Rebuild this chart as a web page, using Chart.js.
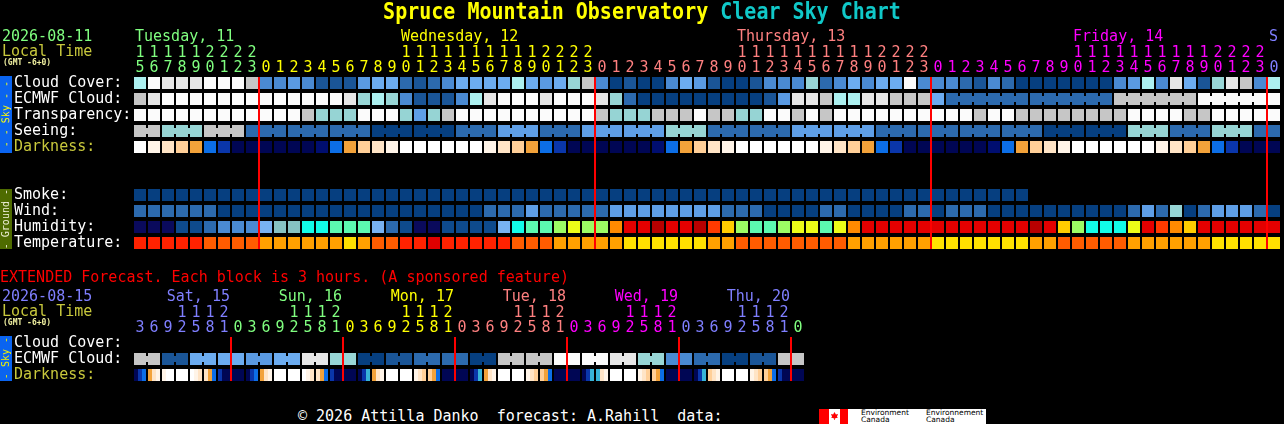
<!DOCTYPE html>
<html>
<head>
<meta charset="utf-8">
<title>Spruce Mountain Observatory Clear Sky Chart</title>
<script src="https://cdn.jsdelivr.net/npm/chart.js@4.4.1/dist/chart.umd.min.js"></script>
<style>
  html, body { margin:0; padding:0; background:#000; }
  body { position:relative; width:1284px; height:424px; overflow:hidden; font-family:"DejaVu Sans Mono", monospace; }
  canvas { position:absolute; left:0; }
  .t { position:absolute; white-space:pre; }
  .side { position:absolute; left:0; width:12px; display:flex; align-items:center; justify-content:center; overflow:hidden; }
  .side span { writing-mode:vertical-rl; transform:rotate(180deg); font-size:10px; line-height:12px; white-space:pre; font-family:"DejaVu Sans Mono", monospace; }
  #dayClip { position:absolute; left:0; top:0; width:1279px; height:60px; overflow:hidden; }
</style>
</head>
<body>
<canvas id="mainChart" width="1284" height="260" style="top:0px"></canvas>
<canvas id="extChart" width="1284" height="140" style="top:260px"></canvas>
<div id="labels"><div id="dayClip"></div></div>
<script>
// ---------------- DATA ----------------
// Main 1-hour forecast: local hours of each column
const hours = [15,16,17,18,19,20,21,22,23,
  0,1,2,3,4,5,6,7,8,9,10,11,12,13,14,15,16,17,18,19,20,21,22,23,
  0,1,2,3,4,5,6,7,8,9,10,11,12,13,14,15,16,17,18,19,20,21,22,23,
  0,1,2,3,4,5,6,7,8,9,10,11,12,13,14,15,16,17,18,19,20,21,22,23,
  0];
const dayNames = ['Tuesday, 11', 'Wednesday, 12', 'Thursday, 13', 'Friday, 14', 'Saturday, 15'];

// Cloud cover, % (0 = clear, 100 = overcast)
const cloudCover = [70,100,90,90,90,100,100,100,80,
  30,30,40,30,10,10,10,40,50,50,20,10,20,30,50,50,50,50,70,50,40,50,60,80,
  30,0,10,0,0,30,50,40,10,0,0,10,30,30,30,60,20,30,50,30,50,50,100,30,
  30,30,20,10,30,20,0,0,0,0,0,0,0,30,40,70,30,90,50,10,60,90,80,30,
  70];
// ECMWF cloud, %: hourly samples, then 6-hourly samples
const ecmwfHourly = [80,90,100,100,100,100,100,100,100,
  100,100,100,100,100,100,90,60,70,60,30,10,10,10,30,70,90,100,100,100,90,100,100,100,
  90,60,20,0,0,0,0,0,0,0,0,0,10,40,90,90,80,70,70,90,90,80,80,80,
  50];
const ecmwfSixHourly = [20, 20, 80, 100];
// Transparency: 0 too cloudy, 1 poor ... 5 transparent
const transparency = [0,0,0,0,0,0,0,0,0,
  0,0,0,1,2,2,2,0,0,0,2,3,2,1,0,0,0,0,0,0,0,0,0,0,
  1,2,2,2,1,1,1,0,1,1,2,2,0,0,1,0,1,0,0,0,0,0,0,0,
  0,0,0,1,0,0,1,1,1,1,1,1,1,1,0,0,0,0,1,1,0,0,0,0,
  0];
// Seeing (3-hourly samples): 1 bad ... 5 excellent
const seeing3h = [1,2,1,4,4,4,5,5,4,3,4,3,3,2,4,4,3,3,4,4,4,4,5,5,2,4,2,4];
// Darkness level: 0 daylight ... 4 twilight ... 8 full dark
const darkness = [0,1,2,3,4,5,6,8,8,
  8,8,8,8,7,5,4,3,2,1,0,0,0,0,0,0,1,2,3,4,5,6,8,8,
  8,8,8,8,7,5,4,3,2,1,0,0,0,0,0,0,1,2,3,4,5,6,8,8,
  8,8,8,8,7,5,4,3,2,1,0,0,0,0,0,0,1,2,3,4,5,6,8,8,
  8];
// Smoke, ug/m3 (forecast ends early)
const smoke = [0,0,0,0,0,0,0,0,0,0,0,0,0,0,0,0,0,0,0,0,0,0,0,0,0,0,0,0,0,0,0,0,
  0,0,0,0,0,0,0,0,0,0,0,0,0,0,0,0,0,0,0,0,0,0,0,0,0,0,0,0,0,0,0,0];
// Wind class: 0 (0-5 mph), 1 (6-11), 2 (12-16), 3 (17-28)
const wind = [1,1,1,1,1,1,0,0,0,
  0,0,0,0,0,0,0,0,0,0,0,0,0,0,0,0,1,1,1,2,1,1,1,1,
  1,2,2,2,2,2,2,2,2,1,1,1,0,0,0,0,1,1,0,0,0,0,1,1,
  0,1,1,1,0,0,0,0,0,0,0,0,0,0,1,2,1,3,0,1,2,2,2,1,
  0];
// Humidity class: 0 (<25%) ... 14 (90-95%)
const humidity = [0,0,0,1,1,2,3,3,3,
  4,5,5,6,6,7,7,7,4,2,1,0,0,1,1,1,1,4,6,7,7,8,9,8,
  8,11,13,13,14,13,13,14,12,10,8,7,7,8,9,9,7,9,11,13,13,13,13,13,
  13,13,13,13,13,13,13,14,13,10,8,6,6,6,9,13,12,11,10,13,13,13,13,13,
  13];
// Temperature, deg F
const temperature = [81,81,81,81,81,75,75,75,75,
  69,69,69,69,69,69,63,69,75,75,81,81,87,81,81,81,81,81,75,75,75,69,69,69,
  69,69,63,63,63,63,63,63,69,69,75,75,75,75,75,75,75,75,69,69,69,69,69,69,
  63,63,63,63,63,63,63,69,69,75,75,75,75,75,69,69,69,69,69,69,63,63,63,63,
  63];

// Extended 3-hour forecast
const extHours = [3,6,9,12,15,18,21,
  0,3,6,9,12,15,18,21, 0,3,6,9,12,15,18,21, 0,3,6,9,12,15,18,21,
  0,3,6,9,12,15,18,21, 0,3,6,9,12,15,18,21, 0];
const extDayNames = ['Sat, 15', 'Sun, 16', 'Mon, 17', 'Tue, 18', 'Wed, 19', 'Thu, 20', 'Fri, 21'];
const extEcmwf6h = [80,10,50,50,40,50,90,60,0,10,20,20,0,80,80,100,100,90,60,30,20,0,10,80];
// darkness of each hour inside every 3-hour block
const extDarkness = [
  [8,6,5],[4,2,1],[1,0,0],[0,0,0],[0,1,2],[2,4,5],[6,8,8],
  [8,8,8],[8,6,5],[4,2,1],[0,0,0],[0,0,0],[0,1,2],[2,4,5],[6,8,8],
  [8,8,8],[8,6,9],[4,2,1],[0,0,0],[0,0,0],[1,2,3],[3,4,5],[8,8,8],
  [8,8,8],[8,6,9],[4,2,1],[0,0,0],[0,0,0],[1,2,3],[3,4,5],[8,8,8],
  [8,8,8],[8,6,9],[9,2,1],[0,0,0],[0,0,0],[1,2,3],[3,4,5],[8,8,8],
  [8,8,8],[8,6,9],[3,2,1],[0,0,0],[0,0,0],[1,2,3],[3,4,5],[6,8,8],
  [8,8,8]];

// ---------------- STYLE ----------------
const FONT = '"DejaVu Sans Mono", monospace';
const mainDayColors = ['#80ff80', '#ffff00', '#ff8080', '#ff00ff', '#7f7fff'];
const extDayColors = ['#7f7fff', '#80ff80', '#ffff00', '#ff8080', '#ff00ff', '#7f7fff', '#80ff80'];
const OLIVE = '#c8c83c';
const cloudPalette = {0:'#063f80',10:'#1a5597',20:'#2c6aae',30:'#4a8ad2',40:'#5a9ae2',50:'#6cacf0',
  60:'#98d6d6',70:'#acf0f0',80:'#c6c6c6',90:'#e6e6e6',100:'#fbfbfb'};
const skyPalette = ['#fbfbfb','#c6c6c6','#96d4d4','#5e9ee6','#2c6aae','#063f80'];
const darkPalette = ['#ffffff','#fff4e8','#ffe4c6','#ffcf98','#f2a23a','#0c6ee6','#0a36aa','#000e70','#000654','#38b4d8'];
const windPalette = ['#063f80','#2c6aae','#5e9ee6','#96d4d4'];
const humPalette = ['#0a0a5c','#0e4a8c','#2c6aae','#4a8ad2','#78b2f2','#86c2c2','#12fce8','#5cfab0',
  '#9cfc64','#ecfc18','#ffcc00','#ff8a00','#ff3a00','#e40000','#b80000'];
function tempColor(f) {
  if (f < 66) return '#ffe000';
  if (f < 72) return '#ffa000';
  if (f < 78) return '#ff5c00';
  if (f < 85) return '#ff2200';
  return '#e00000';
}

// ---------------- HELPERS ----------------
function expand(samples, spans, n) {
  const vals = [], grp = [];
  samples.forEach((v, g) => { for (let i = 0; i < spans[g]; i++) { vals.push(v); grp.push(g); } });
  return { vals: vals.slice(0, n), grp: grp.slice(0, n) };
}
function rowBar(k, vals, colorOf) {
  return {
    type: 'bar', grouped: false, order: 1,
    data: vals.map(v => v == null ? null : [k + 0.125, k + 0.875]),
    backgroundColor: vals.map(v => v == null ? 'rgba(0,0,0,0)' : colorOf(v)),
    categoryPercentage: 1, barPercentage: 12 / 14, borderWidth: 0, inflateAmount: 0
  };
}
function rowLinks(k, vals, grp, colorOf) {
  return {
    type: 'line', order: 2, data: vals.map(() => k + 0.5),
    borderColor: 'rgba(0,0,0,0)', borderWidth: 6, borderCapStyle: 'butt',
    pointRadius: 0, pointHoverRadius: 0, fill: false, tension: 0,
    segment: { borderColor: c => grp[c.p0DataIndex] === grp[c.p1DataIndex] ? colorOf(vals[c.p0DataIndex]) : 'rgba(0,0,0,0)' }
  };
}
function dayIndexOf(hrs) {
  let d = 0; return hrs.map((h, i) => { if (i > 0 && h === 0) d++; return d; });
}
function twoLine(h) {
  return h >= 10 ? [String(Math.floor(h / 10)), String(h % 10)] : ['', String(h)];
}
function makeChart(id, cfg) {
  const rows = cfg.rows;
  return new Chart(document.getElementById(id), {
    type: 'bar',
    data: { labels: cfg.labels, datasets: cfg.datasets },
    options: {
      responsive: false, maintainAspectRatio: false, animation: false, devicePixelRatio: 1, events: [],
      layout: { padding: cfg.padding },
      plugins: { legend: { display: false }, tooltip: { enabled: false } },
      scales: {
        x: {
          type: 'category', position: 'top', offset: true,
          afterFit: s => { s.height = 77; },
          grid: { offset: true, drawTicks: false, lineWidth: 2, z: 1,
            color: c => (c.index < cfg.labels.length && cfg.labels[c.index] === 0) ? '#ff0000' : 'rgba(0,0,0,0)' },
          border: { display: false },
          ticks: { autoSkip: false, maxRotation: 0, minRotation: 0, padding: 1.5,
            callback: (v, i) => twoLine(cfg.labels[i]),
            color: c => cfg.dayColors[cfg.dayIdx[c.index]],
            font: { family: FONT, size: 15, lineHeight: '15px' } }
        },
        y: {
          type: 'linear', position: 'left', reverse: true, min: 0.125, max: rows.length - 0.125,
          afterBuildTicks: s => { s.ticks = rows.map((_, i) => ({ value: i + 0.5 })); },
          afterFit: s => { s.width = 119; },
          grid: { display: false }, border: { display: false },
          ticks: { autoSkip: false, crossAlign: 'far', padding: 0,
            callback: (v, i) => rows[i],
            color: c => cfg.rowColors[c.index],
            font: { family: FONT, size: 15, lineHeight: '15px' } }
        }
      }
    }
  });
}

// ---------------- MAIN CHART ----------------
const mainDayIdx = dayIndexOf(hours);
const N = hours.length;
const ecmwf = expand(ecmwfHourly.concat(ecmwfSixHourly), ecmwfHourly.map(() => 1).concat(ecmwfSixHourly.map(() => 6)), N);
const seeing = expand(seeing3h, seeing3h.map((_, g) => g === 0 ? 2 : 3), N);
const smokeFull = hours.map((_, i) => i < smoke.length ? smoke[i] : null);
const mainRows = ['Cloud Cover:', 'ECMWF Cloud:', 'Transparency:', 'Seeing:', 'Darkness:', '', '',
  'Smoke:', 'Wind:', 'Humidity:', 'Temperature:'];
const mainRowColors = ['#ffffff', '#ffffff', '#ffffff', '#ffffff', OLIVE, '#ffffff', '#ffffff',
  '#ffffff', '#ffffff', '#ffffff', '#ffffff'];
const cloudC = v => cloudPalette[v];
const skyC = v => skyPalette[v];
const mainChart = makeChart('mainChart', {
  labels: hours, dayIdx: mainDayIdx, dayColors: mainDayColors,
  rows: mainRows, rowColors: mainRowColors,
  padding: { left: 14, right: 3, top: 0, bottom: 11 },
  datasets: [
    rowBar(0, cloudCover, cloudC),
    rowLinks(1, ecmwf.vals, ecmwf.grp, cloudC),
    rowBar(1, ecmwf.vals, cloudC),
    rowBar(2, transparency, skyC),
    rowLinks(3, seeing.vals, seeing.grp, skyC),
    rowBar(3, seeing.vals, skyC),
    rowBar(4, darkness, v => darkPalette[v]),
    rowBar(7, smokeFull, () => '#063f80'),
    rowBar(8, wind, v => windPalette[v]),
    rowBar(9, humidity, v => humPalette[v]),
    rowBar(10, temperature, tempColor)
  ]
});

// ---------------- EXTENDED CHART ----------------
const extDayIdx = dayIndexOf(extHours);
const M = extHours.length;
const extEc = expand(extEcmwf6h, extEcmwf6h.map(() => 2), M);
function darkSub(s) {
  return {
    type: 'bar', grouped: true, order: 1,
    data: extDarkness.map(() => [2.125, 2.875]),
    backgroundColor: extDarkness.map(t => darkPalette[t[s]]),
    categoryPercentage: 12 / 14, barPercentage: 1, borderWidth: 0, inflateAmount: 0
  };
}
const extChart = makeChart('extChart', {
  labels: extHours, dayIdx: extDayIdx, dayColors: extDayColors,
  rows: ['Cloud Cover:', 'ECMWF Cloud:', 'Darkness:'], rowColors: ['#ffffff', '#ffffff', OLIVE],
  padding: { left: 14, right: 1284 - 133 - 14 * M, top: 0, bottom: 19 },
  datasets: [
    rowLinks(1, extEc.vals, extEc.grp, cloudC),
    rowBar(1, extEc.vals, cloudC),
    darkSub(0), darkSub(1), darkSub(2)
  ]
});

// ---------------- TEXT ----------------
const layer = document.getElementById('labels');
function addText(str, x, capTop, color, opt) {
  opt = opt || {};
  const size = opt.size || 15;
  const d = document.createElement('div');
  d.className = 't';
  d.textContent = str;
  d.style.fontSize = size + 'px';
  d.style.lineHeight = size + 'px';
  d.style.left = x + 'px';
  d.style.top = (capTop - 0.12 * size) + 'px';
  d.style.color = color;
  if (opt.bold) d.style.fontWeight = 'bold';
  if (opt.right) d.style.transform = 'translateX(-100%)';
  (opt.parent || layer).appendChild(d);
  return d;
}

// title
const title = document.createElement('div');
title.className = 't';
title.style.cssText = 'left:0;width:1284px;top:0px;text-align:center;font-weight:bold;font-size:20px;line-height:20px;transform:scaleY(1.12);transform-origin:0 0;';
title.innerHTML = '<span style="color:#ffff00">Spruce Mountain Observatory</span> <span style="color:#10c8c8">Clear Sky Chart</span>';
layer.appendChild(title);

// header, main
addText('2026-08-11', 2, 31, '#80ff80');
addText('Local Time', 2, 46, OLIVE);
addText('(GMT -6+0)', 3, 60, '#f0f0a0', { size: 8, bold: true });
const xs = mainChart.scales.x;
const dayClip = document.getElementById('dayClip');
for (let d = 0; d <= mainDayIdx[N - 1]; d++) {
  const cols = hours.map((h, i) => i).filter(i => mainDayIdx[i] === d);
  const c = cols.find(i => hours[i] >= 10);
  const col = c === undefined ? cols[0] : c;
  addText(dayNames[d], Math.round(xs.getPixelForValue(col)) - 6 + 1, 31, mainDayColors[d], { parent: dayClip });
}

// extended header
addText('EXTENDED Forecast. Each block is 3 hours. (A sponsored feature)', 0, 272, '#ff0000');
addText('2026-08-15', 2, 291, '#7f7fff');
addText('Local Time', 2, 306, OLIVE);
addText('(GMT -6+0)', 3, 320, '#f0f0a0', { size: 8, bold: true });
const xe = extChart.scales.x;
for (let d = 0; d <= extDayIdx[M - 1]; d++) {
  const j = extHours.findIndex((h, i) => extDayIdx[i] === d && h === 21);
  if (j < 0) continue;
  addText(extDayNames[d], Math.round(xe.getPixelForValue(j)) + 6, 291, extDayColors[d], { right: true });
}

// side bars
function addSide(top, height, bg, fg, txt) {
  const s = document.createElement('div');
  s.className = 'side';
  s.style.top = top + 'px'; s.style.height = height + 'px'; s.style.background = bg;
  const sp = document.createElement('span');
  sp.textContent = txt; sp.style.color = fg;
  s.appendChild(sp);
  layer.appendChild(s);
}
addSide(76, 77, '#0a64f0', '#f0f000', '- - Sky - -');
addSide(189, 60, '#4e6b00', '#f0f0d8', '- Ground -');
addSide(336, 45, '#0a64f0', '#f0f000', '- Sky -');

// footer
addText('\u00a9 2026 Attilla Danko  forecast: A.Rahill  data:', 298, 411, '#ffffff');
const logo = document.createElement('div');
logo.style.cssText = 'position:absolute;left:819px;top:409px;width:167px;height:15px;background:#fff;overflow:hidden;';
logo.innerHTML =
  '<div style="position:absolute;left:0;top:0;width:10px;height:15px;background:#ff0000"></div>' +
  '<div style="position:absolute;left:12px;top:3px;width:7px;height:8px;background:#ff0000;clip-path:polygon(50% 0,70% 30%,100% 25%,85% 60%,100% 70%,55% 80%,55% 100%,45% 100%,45% 80%,0 70%,15% 60%,0 25%,30% 30%)"></div>' +
  '<div style="position:absolute;left:21px;top:0;width:8px;height:15px;background:#ff0000"></div>' +
  '<div style="position:absolute;left:42px;top:0;font:7.5px/7px \'DejaVu Sans\',sans-serif;color:#000;white-space:pre">Environment\nCanada</div>' +
  '<div style="position:absolute;left:107px;top:0;font:7.5px/7px \'DejaVu Sans\',sans-serif;color:#000;white-space:pre">Environnement\nCanada</div>';
layer.appendChild(logo);
</script>
</body>
</html>
